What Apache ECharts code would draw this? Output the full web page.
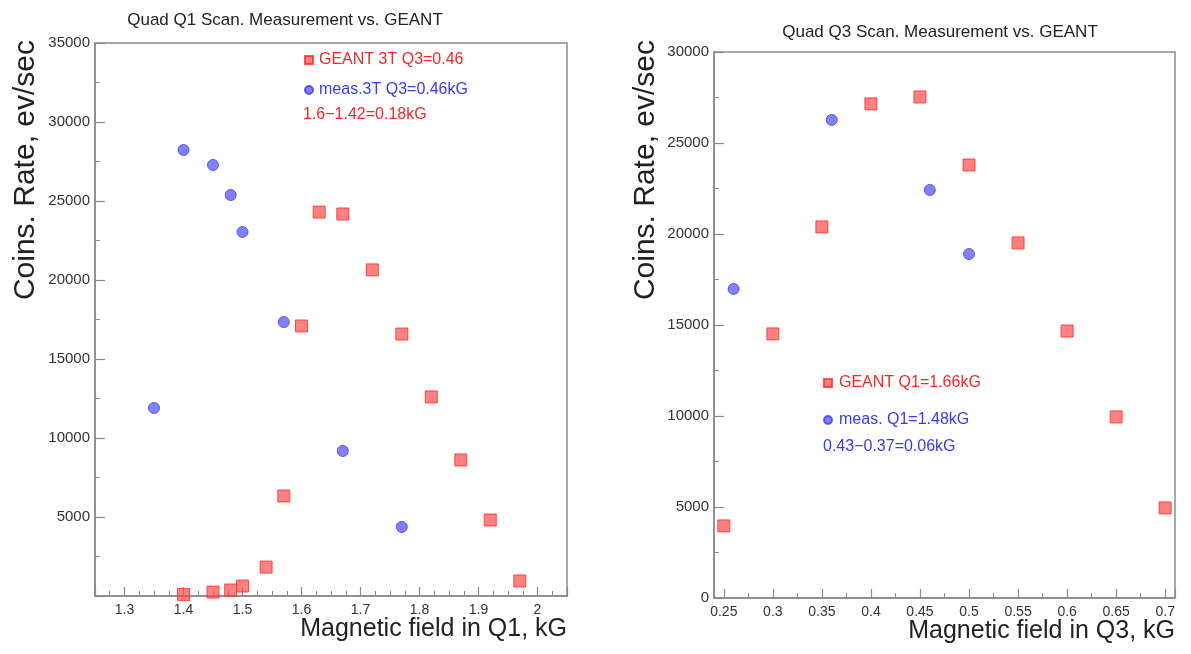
<!DOCTYPE html>
<html>
<head>
<meta charset="utf-8">
<script src="https://cdn.jsdelivr.net/npm/echarts@6/dist/echarts.min.js"></script>
<style>
html,body{margin:0;padding:0;background:#fff;}
#c{width:1191px;height:654px;}
</style>
</head>
<body>
<div id="c"></div>
<script>
// ---- Data: left panel (Quad Q1 scan) ----
const q1GeantX = [1.40, 1.45, 1.48, 1.50, 1.54, 1.57, 1.60, 1.63, 1.67, 1.72, 1.77, 1.82, 1.87, 1.92, 1.97];
const q1GeantY = [100, 250, 380, 630, 1830, 6330, 17090, 24300, 24180, 20640, 16580, 12600, 8610, 4810, 950];
const q1MeasX = [1.35, 1.40, 1.45, 1.48, 1.50, 1.57, 1.67, 1.77];
const q1MeasY = [11900, 28230, 27280, 25380, 23040, 17340, 9180, 4370];

// ---- Data: right panel (Quad Q3 scan) ----
const q3GeantX = [0.25, 0.30, 0.35, 0.40, 0.45, 0.50, 0.55, 0.60, 0.65, 0.70];
const q3GeantY = [3960, 14510, 20390, 27150, 27530, 23790, 19510, 14670, 9950, 4950];
const q3MeasX = [0.26, 0.36, 0.46, 0.50];
const q3MeasY = [16980, 26270, 22420, 18900];

// ---- Texts ----
const titleLeft = 'Quad Q1 Scan. Measurement vs. GEANT';
const titleRight = 'Quad Q3 Scan. Measurement vs. GEANT';
const yTitle = 'Coins. Rate, ev/sec';
const xTitleLeft = 'Magnetic field in Q1, kG';
const xTitleRight = 'Magnetic field in Q3, kG';
const nameGeantL = 'GEANT 3T Q3=0.46';
const nameMeasL = 'meas.3T Q3=0.46kG';
const noteLeft = '1.6\u22121.42=0.18kG';
const nameGeantR = 'GEANT Q1=1.66kG';
const nameMeasR = 'meas. Q1=1.48kG';
const noteRight = '0.43\u22120.37=0.06kG';

const pairs = (xs, ys) => xs.map((x, i) => [x, ys[i]]);

const RED = '#f42828';
const BLUE = '#3a3af0';
const FONT = 'Liberation Sans';
const AX = '#8a8a8a';

function xAxisCfg(gridIndex, min, max, split, minorSplit) {
  return {
    type: 'value', gridIndex, min, max, splitNumber: split,
    axisLine: {show: true, lineStyle: {color: AX, width: 1.5}},
    axisTick: {show: true, inside: true, length: 9, lineStyle: {color: AX, width: 1.2}},
    minorTick: {show: true, splitNumber: minorSplit, length: 5, lineStyle: {color: AX, width: 1}},
    axisLabel: {fontFamily: FONT, fontSize: 14, color: '#333', margin: 7, showMinLabel: false, showMaxLabel: false,
      formatter: v => String(+v.toFixed(3))},
    splitLine: {show: false}
  };
}
function yAxisCfg(gridIndex, min, max, interval, hideZero) {
  return {
    type: 'value', gridIndex, min, max, interval,
    axisLine: {show: true, lineStyle: {color: AX, width: 1.5}},
    axisTick: {show: true, inside: true, length: 10, lineStyle: {color: AX, width: 1.2}},
    minorTick: {show: true, splitNumber: 2, length: 5, lineStyle: {color: AX, width: 1}},
    axisLabel: {fontFamily: FONT, fontSize: 15, color: '#333', margin: 5,
      formatter: v => (hideZero && v === 0) ? '' : String(v)},
    splitLine: {show: false}
  };
}

const squareStyle = {color: 'rgba(255,70,70,0.85)', borderColor: '#ff2a2a', borderWidth: 1};
const circleStyle = {color: 'rgba(70,70,255,0.85)', borderColor: '#3c3cf0', borderWidth: 1};

const chart = echarts.init(document.getElementById('c'), null, {renderer: 'canvas'});
chart.setOption({
  backgroundColor: '#fff',
  animation: false,
  title: [
    {text: titleLeft, left: 280, top: 7, textAlign: 'center',
      textStyle: {fontFamily: FONT, fontSize: 17, fontWeight: 'normal', color: '#222'}},
    {text: titleRight, left: 935, top: 19, textAlign: 'center',
      textStyle: {fontFamily: FONT, fontSize: 17, fontWeight: 'normal', color: '#222'}}
  ],
  legend: [
    {orient: 'vertical', left: 299, top: 47, itemGap: 14, itemWidth: 8, itemHeight: 8,
      data: [
        {name: nameGeantL, icon: 'rect', textStyle: {color: RED}},
        {name: nameMeasL, icon: 'circle', textStyle: {color: BLUE}}
      ],
      textStyle: {fontFamily: FONT, fontSize: 16, padding: [0, 0, 0, 1]}},
    {orient: 'vertical', left: 818, top: 370, itemGap: 21, itemWidth: 8, itemHeight: 8,
      data: [
        {name: nameGeantR, icon: 'rect', textStyle: {color: RED}},
        {name: nameMeasR, icon: 'circle', textStyle: {color: BLUE}}
      ],
      textStyle: {fontFamily: FONT, fontSize: 16, padding: [0, 0, 0, 2]}}
  ],
  grid: [
    {left: 95, right: 624, top: 43, bottom: 58, show: true, borderColor: AX, borderWidth: 1.5,
      backgroundColor: 'transparent', containLabel: false, outerBoundsMode: 'none'},
    {left: 714, right: 16, top: 52, bottom: 56, show: true, borderColor: AX, borderWidth: 1.5,
      backgroundColor: 'transparent', containLabel: false, outerBoundsMode: 'none'}
  ],
  xAxis: [
    xAxisCfg(0, 1.25, 2.05, 8, 4),
    xAxisCfg(1, 0.24, 0.71, 9, 2)
  ],
  yAxis: [
    yAxisCfg(0, 0, 35000, 5000, true),
    yAxisCfg(1, 0, 30000, 5000, false)
  ],
  graphic: [
    {type: 'text', x: 26, y: 40, rotation: Math.PI / 2,
      style: {text: yTitle, fontFamily: FONT, fontSize: 30, fill: '#222', align: 'right', verticalAlign: 'middle'}},
    {type: 'text', x: 646, y: 40, rotation: Math.PI / 2,
      style: {text: yTitle, fontFamily: FONT, fontSize: 30, fill: '#222', align: 'right', verticalAlign: 'middle'}},
    {type: 'text', x: 567, y: 617,
      style: {text: xTitleLeft, fontFamily: FONT, fontSize: 25, fill: '#222', align: 'right', verticalAlign: 'top'}},
    {type: 'text', x: 1175, y: 619,
      style: {text: xTitleRight, fontFamily: FONT, fontSize: 25, fill: '#222', align: 'right', verticalAlign: 'top'}},
    {type: 'text', x: 303, y: 107,
      style: {text: noteLeft, fontFamily: FONT, fontSize: 16, fill: RED}},
    {type: 'text', x: 823, y: 439,
      style: {text: noteRight, fontFamily: FONT, fontSize: 16, fill: BLUE}}
  ],
  series: [
    {name: nameGeantL, type: 'scatter', xAxisIndex: 0, yAxisIndex: 0, symbol: 'rect', symbolSize: 12,
      itemStyle: squareStyle, data: pairs(q1GeantX, q1GeantY)},
    {name: nameMeasL, type: 'scatter', xAxisIndex: 0, yAxisIndex: 0, symbol: 'circle', symbolSize: 11,
      itemStyle: circleStyle, data: pairs(q1MeasX, q1MeasY)},
    {name: nameGeantR, type: 'scatter', xAxisIndex: 1, yAxisIndex: 1, symbol: 'rect', symbolSize: 12,
      itemStyle: squareStyle, data: pairs(q3GeantX, q3GeantY)},
    {name: nameMeasR, type: 'scatter', xAxisIndex: 1, yAxisIndex: 1, symbol: 'circle', symbolSize: 11,
      itemStyle: circleStyle, data: pairs(q3MeasX, q3MeasY)}
  ]
});
</script>
</body>
</html>
